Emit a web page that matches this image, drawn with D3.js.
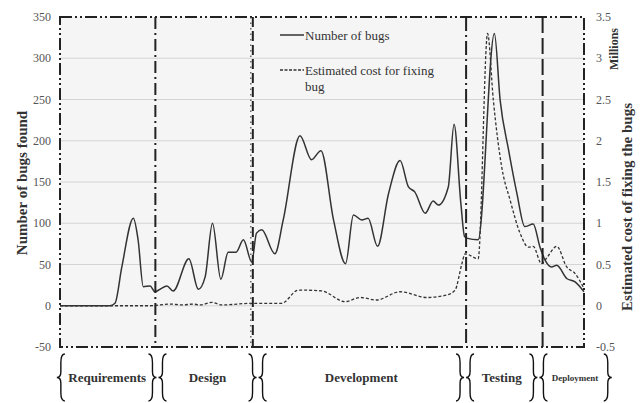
<!DOCTYPE html>
<html lang="en">
<head>
<meta charset="UTF-8">
<title>Bugs found and cost of fixing by phase</title>
<style>
  body { margin: 0; background: #fff; }
  svg { display: block; font-family: "Liberation Serif", "DejaVu Serif", serif; }
  .tick-label { font-size: 12px; fill: #555; }
  .axis-title { font-size: 15px; font-weight: bold; fill: #333; }
  .grid { stroke: #d4d4d4; stroke-width: 1; }
  .phase-label { font-size: 13px; font-weight: bold; fill: #333; }
  .legend-text { font-size: 13px; fill: #333; }
</style>
</head>
<body>
<div id="chart"></div>
<script src="https://d3js.org/d3.v7.min.js"></script>
<script>
// time runs 0..100 along the project, no x axis shown
const bugX = [0, 9.5, 10.5, 11.8, 14.0, 14.9, 15.9, 17.2, 18.1, 19.1, 20.4, 21.6, 24.6, 26.4, 27.7, 29.1,
  30.7, 32.1, 33.6, 35.0, 36.6, 37.5, 38.5, 41.0, 42.6, 45.8, 48.0, 49.8, 52.2, 54.5, 56.0, 57.6, 58.8,
  60.6, 62.7, 64.9, 66.5, 67.7, 69.7, 71.2, 72.2, 74.1, 75.2, 76.5, 77.2, 77.6, 79.8, 82.9, 84.0, 85.6,
  87.2, 88.7, 90.3, 91.6, 92.6, 93.8, 94.8, 96.7, 98.3, 100];
const bugCount = [0, 0, 3, 47, 106, 80, 23, 24, 17, 20, 24, 18, 57, 20, 35, 100,
  32, 65, 65, 80, 53, 88, 92, 63, 104, 206, 177, 188, 104, 51, 110, 104, 106,
  72, 136, 176, 144, 138, 112, 127, 122, 144, 220, 124, 84, 82, 80, 330, 249, 189,
  136, 96, 99, 71, 55, 47, 49, 33, 29, 17];

const costX = [0, 17.2, 21.0, 23.3, 25.4, 26.7, 29.0, 30.9, 36.8, 42.3, 45.5, 49.9, 54.4, 57.3, 60.4,
  64.9, 70.0, 73.8, 75.4, 76.7, 77.3, 79.8, 81.6, 82.7, 84.3, 85.9, 87.8, 89.4, 90.3, 91.9, 93.0,
  94.8, 96.7, 98.3, 100];
const costMillions = [0, 0, 0.02, 0.01, 0.02, 0.01, 0.04, 0.01, 0.03, 0.03, 0.19, 0.18, 0.05, 0.10, 0.07,
  0.17, 0.10, 0.13, 0.19, 0.51, 0.63, 0.57, 3.30, 2.49, 1.68, 1.28, 0.88, 0.71, 0.72, 0.51, 0.59,
  0.72, 0.47, 0.39, 0.21];

const leftTicks = [350, 300, 250, 200, 150, 100, 50, 0, -50];
const rightTicks = [3.5, 3, 2.5, 2, 1.5, 1, 0.5, 0, -0.5];

const phases = ["Requirements", "Design", "Development", "Testing", "Deployment"];
const phaseEnds = [18.2, 36.8, 77.5, 92.1];          // dividers inside the plot
const braceEdges = [-0.6, 18.6, 37.7, 77.3, 91.3, 105.3]; // brace group edges below the plot

const width = 643, height = 403;
const margin = { top: 17, right: 59, bottom: 56, left: 60 };

const svg = d3.select("#chart").append("svg")
  .attr("width", width).attr("height", height);

const x = d3.scaleLinear().domain([0, 100]).range([margin.left, width - margin.right]);
const y = d3.scaleLinear().domain([-50, 350]).range([height - margin.bottom, margin.top]);
const y2 = d3.scaleLinear().domain([-0.5, 3.5]).range([height - margin.bottom, margin.top]);

const x0 = margin.left, x1 = width - margin.right;
const yTop = margin.top, yBot = height - margin.bottom;

// plot background
svg.append("rect").attr("x", x0).attr("y", yTop)
  .attr("width", x1 - x0).attr("height", yBot - yTop).attr("fill", "#f5f5f5");

// grid
svg.selectAll(".grid").data(leftTicks.filter(d => d > -50 && d < 350)).enter()
  .append("line").attr("class", "grid")
  .attr("x1", x0).attr("x2", x1)
  .attr("y1", d => y(d)).attr("y2", d => y(d));

// tick labels
svg.selectAll(".lt").data(leftTicks).enter().append("text")
  .attr("class", "tick-label").attr("text-anchor", "end")
  .attr("x", x0 - 9).attr("y", d => y(d)).attr("dy", "0.35em").text(d => d);
svg.selectAll(".rt").data(rightTicks).enter().append("text")
  .attr("class", "tick-label").attr("text-anchor", "start")
  .attr("x", x1 + 12).attr("y", d => y2(d)).attr("dy", "0.35em").text(d => d);

// axis titles
svg.append("text").attr("class", "axis-title").attr("text-anchor", "middle")
  .attr("transform", `translate(22,183) rotate(-90)`).attr("dy", "0.35em")
  .text("Number of bugs found");
svg.append("text").attr("class", "axis-title").attr("text-anchor", "middle")
  .attr("transform", `translate(627,207) rotate(-90)`).attr("dy", "0.35em")
  .text("Estimated cost of fixing the bugs");
svg.append("text").attr("class", "axis-title").style("font-size", "12px")
  .attr("text-anchor", "middle")
  .attr("transform", `translate(614,49) rotate(-90)`).attr("dy", "0.35em")
  .text("Millions");

// lines
const bugLine = d3.line().curve(d3.curveMonotoneX)
  .x((d, i) => x(bugX[i])).y(d => y(d));
const costLine = d3.line().curve(d3.curveMonotoneX)
  .x((d, i) => x(costX[i])).y(d => y2(d));

svg.append("path").datum(costMillions).attr("d", costLine)
  .attr("fill", "none").attr("stroke", "#333").attr("stroke-width", 1.3)
  .attr("stroke-dasharray", "3,2");
svg.append("path").datum(bugCount).attr("d", bugLine)
  .attr("fill", "none").attr("stroke", "#333").attr("stroke-width", 1.5);

// frame and phase dividers
svg.append("rect").attr("x", x0).attr("y", yTop)
  .attr("width", x1 - x0).attr("height", yBot - yTop)
  .attr("fill", "none").attr("stroke", "#222").attr("stroke-width", 2)
  .attr("stroke-dasharray", "12,3,2,3,2,3");

const dividerDash = ["12,4,2,4", "10,4", "14,4,2,4", "16,5"];
svg.selectAll(".divider").data(phaseEnds).enter().append("line")
  .attr("x1", d => x(d)).attr("x2", d => x(d))
  .attr("y1", yTop).attr("y2", yBot)
  .attr("stroke", "#222").attr("stroke-width", 2)
  .attr("stroke-dasharray", (d, i) => dividerDash[i]);
// dotted companion line on the design / development border
svg.append("line")
  .attr("x1", x(phaseEnds[1]) - 2).attr("x2", x(phaseEnds[1]) - 2)
  .attr("y1", yTop).attr("y2", yBot)
  .attr("stroke", "#444").attr("stroke-width", 1.2).attr("stroke-dasharray", "1.5,4");

// legend
const legend = svg.append("g");
legend.append("line").attr("x1", 280).attr("x2", 304).attr("y1", 35).attr("y2", 35)
  .attr("stroke", "#333").attr("stroke-width", 1.5);
legend.append("text").attr("class", "legend-text").attr("x", 305).attr("y", 35)
  .attr("dy", "0.35em").text("Number of bugs");
legend.append("line").attr("x1", 280).attr("x2", 304).attr("y1", 70).attr("y2", 70)
  .attr("stroke", "#333").attr("stroke-width", 1.3).attr("stroke-dasharray", "3,1.5");
legend.append("text").attr("class", "legend-text").attr("x", 305).attr("y", 70)
  .attr("dy", "0.35em").text("Estimated cost for fixing");
legend.append("text").attr("class", "legend-text").attr("x", 305).attr("y", 86)
  .attr("dy", "0.35em").text("bug");

// braces below the plot
const bTop = 354, bBot = 401, bMid = (bTop + bBot) / 2;
function brace(tipX, dir) {
  // dir = +1 : opening "{" (spine right of tip); dir = -1 : closing "}"
  const s = tipX + dir * 4, e = tipX + dir * 8, h = bBot - bTop;
  return `M${e},${bTop} Q${s},${bTop} ${s},${bTop + h * 0.18} L${s},${bMid - h * 0.12} ` +
    `Q${s},${bMid} ${tipX},${bMid} Q${s},${bMid} ${s},${bMid + h * 0.12} ` +
    `L${s},${bBot - h * 0.18} Q${s},${bBot} ${e},${bBot}`;
}
const braces = svg.append("g").attr("fill", "none").attr("stroke", "#111").attr("stroke-width", 1.4);
phases.forEach((p, i) => {
  const a = x(braceEdges[i]), b = x(braceEdges[i + 1]);
  braces.append("path").attr("d", brace(i === 0 ? a : a + 1, 1));
  braces.append("path").attr("d", brace(i === phases.length - 1 ? b : b - 1, -1));
  svg.append("text").attr("class", "phase-label").attr("text-anchor", "middle")
    .attr("x", (a + b) / 2).attr("y", bMid).attr("dy", "0.35em")
    .style("font-size", p === "Deployment" ? "9px" : null)
    .text(p);
});
</script>
</body>
</html>
